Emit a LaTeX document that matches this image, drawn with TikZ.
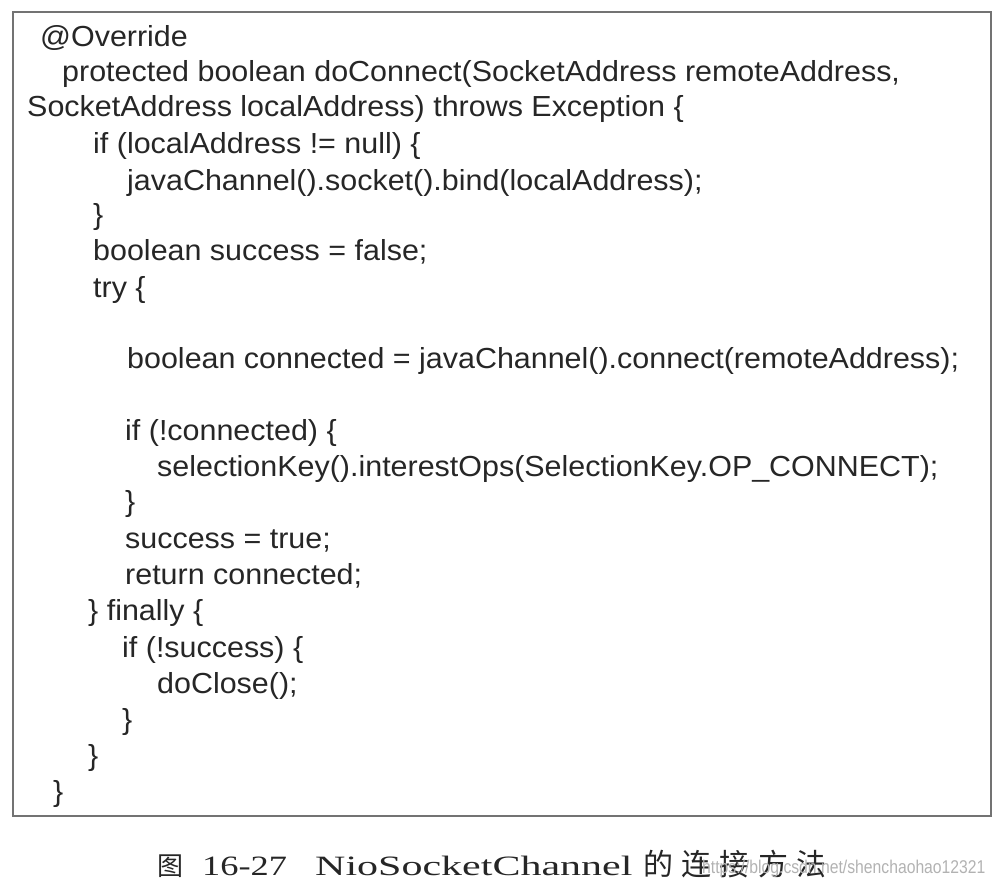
\documentclass[tikz,border=0pt]{standalone}
\usepackage{fontspec}
\usepackage{tikz}
\newfontfamily\codefont[FakeStretch=1.05]{Liberation Sans}
\newfontfamily\capserif[FakeStretch=1.5]{Liberation Serif}
\newfontfamily\capnum[FakeStretch=1.3]{Liberation Serif}
\newfontfamily\cjk[LetterSpace=28]{Noto Sans CJK SC}
\newfontfamily\markfont[FakeStretch=0.85]{Liberation Sans}
\tikzset{
  codeline/.style={anchor=base west, inner sep=0pt, text=black!85,
    font=\codefont\fontsize{29}{34}\selectfont},
  capline/.style={anchor=base west, inner sep=0pt, text=black!85}
}

\begin{document}
\begin{tikzpicture}[x=1pt, y=-1pt]
  \useasboundingbox (0,0) rectangle (996,894);
  % listing frame
  \draw [black!55, line width=2pt] (13,12) rectangle (991,816);
  % code
  \node [codeline] (override) at (40, 46) {@Override};
  \node [codeline] (sig) at (62, 81) {protected boolean doConnect(SocketAddress remoteAddress,};
  \node [codeline] (sigb) at (27, 116) {SocketAddress localAddress) throws Exception \{};
  \node [codeline] (iflocal) at (93, 153) {if (localAddress != null) \{};
  \node [codeline] (bind) at (127, 190) {javaChannel().socket().bind(localAddress);};
  \node [codeline] (iflocalend) at (93, 224) {\}};
  \node [codeline] (succ) at (93, 260) {boolean success = false;};
  \node [codeline] (try) at (93, 297) {try \{};
  \node [codeline] (conn) at (127, 368) {boolean connected = javaChannel().connect(remoteAddress);};
  \node [codeline] (ifconn) at (125, 440) {if (!connected) \{};
  \node [codeline] (ops) at (157, 476) {selectionKey().interestOps(SelectionKey.OP\_CONNECT);};
  \node [codeline] (ifconnend) at (125, 511) {\}};
  \node [codeline] (succtrue) at (125, 548) {success = true;};
  \node [codeline] (ret) at (125, 584) {return connected;};
  \node [codeline] (fin) at (88, 620) {\} finally \{};
  \node [codeline] (ifsucc) at (122, 657) {if (!success) \{};
  \node [codeline] (close) at (157, 693) {doClose();};
  \node [codeline] (ifsuccend) at (122, 729) {\}};
  \node [codeline] (finend) at (88, 765) {\}};
  \node [codeline] (methend) at (53, 801) {\}};
  % caption
  \node [capline, font=\cjk\fontsize{26}{30}\selectfont] (figword) at (157, 875) {图};
  \node [capline, font=\capnum\fontsize{28}{32}\selectfont] (fignum) at (202, 875) {16-27};
  \node [capline, font=\capserif\fontsize{28}{32}\selectfont] (figname) at (315, 875) {NioSocketChannel};
  \node [capline, font=\cjk\fontsize{30}{34}\selectfont] (figtext) at (643, 875) {的连接方法};
  \node [capline, text=black!30, font=\markfont\fontsize{18.5}{22}\selectfont] (mark) at (702, 873) {https://blog.csdn.net/shenchaohao12321};
\end{tikzpicture}
\end{document}
